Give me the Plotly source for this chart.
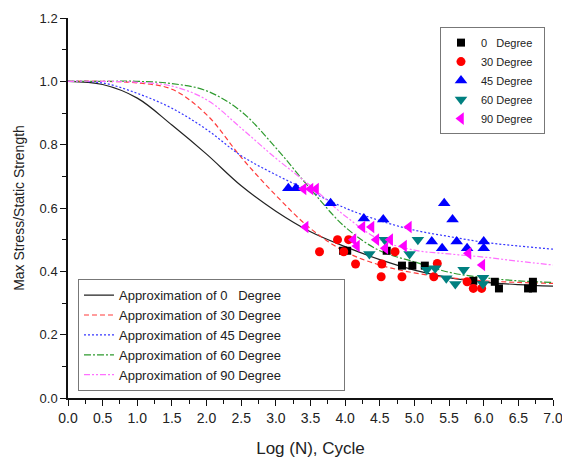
import plotly.graph_objects as go

# ---- data ----
curve_x = [0.0, 0.5, 1.0, 1.5, 2.0, 2.5, 3.0, 3.5, 4.0, 4.5, 5.0, 5.5, 6.0, 6.5, 7.0]
curve_0 = [1.0, 0.99, 0.947, 0.862, 0.77, 0.67, 0.59, 0.525, 0.478, 0.437, 0.404, 0.38, 0.366, 0.358, 0.353]
curve_30 = [1.0, 1.0, 0.995, 0.975, 0.895, 0.76, 0.64, 0.535, 0.462, 0.42, 0.395, 0.38, 0.37, 0.365, 0.362]
curve_45 = [1.0, 0.995, 0.962, 0.915, 0.848, 0.765, 0.705, 0.652, 0.60, 0.56, 0.53, 0.51, 0.492, 0.48, 0.47]
curve_60 = [1.0, 1.0, 1.0, 0.993, 0.97, 0.905, 0.79, 0.66, 0.54, 0.465, 0.43, 0.397, 0.38, 0.37, 0.365]
curve_90 = [1.0, 1.0, 0.997, 0.985, 0.942, 0.852, 0.757, 0.67, 0.575, 0.50, 0.467, 0.455, 0.445, 0.432, 0.42]

deg0_x = [3.97, 4.03, 4.60, 4.82, 4.97, 5.15, 5.85, 6.16, 6.22, 6.64, 6.71, 6.71]
deg0_y = [0.465, 0.465, 0.465, 0.418, 0.418, 0.418, 0.37, 0.367, 0.346, 0.346, 0.367, 0.346]

deg30_x = [3.63, 3.89, 3.98, 4.05, 4.15, 4.52, 4.53, 4.72, 4.82, 5.28, 5.33, 5.76, 5.85, 5.97]
deg30_y = [0.462, 0.50, 0.462, 0.50, 0.423, 0.383, 0.423, 0.462, 0.383, 0.383, 0.425, 0.367, 0.346, 0.346]

deg45_x = [3.18, 3.29, 3.79, 4.27, 4.55, 5.25, 5.40, 5.43, 5.55, 5.61, 5.76, 6.00, 6.00]
deg45_y = [0.662, 0.662, 0.615, 0.567, 0.564, 0.494, 0.473, 0.615, 0.564, 0.494, 0.473, 0.494, 0.473]

deg60_x = [4.35, 4.57, 4.93, 5.05, 5.18, 5.30, 5.46, 5.59, 5.71, 5.99, 5.99]
deg60_y = [0.455, 0.50, 0.455, 0.50, 0.405, 0.41, 0.378, 0.36, 0.405, 0.38, 0.36]

deg90_x = [3.40, 3.50, 3.58, 3.43, 4.12, 4.17, 4.25, 4.38, 4.45, 4.58, 4.65, 4.85, 4.92, 5.78, 5.98]
deg90_y = [0.66, 0.66, 0.66, 0.54, 0.50, 0.48, 0.54, 0.54, 0.50, 0.473, 0.50, 0.48, 0.54, 0.457, 0.42]

x_ticks = [0.0, 0.5, 1.0, 1.5, 2.0, 2.5, 3.0, 3.5, 4.0, 4.5, 5.0, 5.5, 6.0, 6.5, 7.0]
y_ticks = [0.0, 0.2, 0.4, 0.6, 0.8, 1.0, 1.2]

NB = "\u00a0"
FONT = "Liberation Sans, Arial, sans-serif"
TXT = "#222222"
AX = "#111111"

fig = go.Figure()

# fitted curves (legend2, bottom-left)
pad2 = NB * 16
curves = [
    (curve_0, "Approximation of 0" + NB * 3 + "Degree" + pad2, "#222222", "solid"),
    (curve_30, "Approximation of 30 Degree" + pad2, "#ff3b3b", "5px,3px"),
    (curve_45, "Approximation of 45 Degree" + pad2, "#3535ff", "2px,2px"),
    (curve_60, "Approximation of 60 Degree" + pad2, "#2e9a2e", "7px,2px,2px,2px"),
    (curve_90, "Approximation of 90 Degree" + pad2, "#ff70ff", "6px,2px,2px,2px,2px,2px"),
]
for i, (yv, name, col, dash) in enumerate(curves):
    fig.add_trace(go.Scatter(
        x=curve_x, y=yv, mode="lines", name=name,
        line=dict(color=col, width=1.2, dash=dash, shape="spline", smoothing=1.0),
        legend="legend2", legendgroup="c%d" % i,
    ))

# data points (legend, top-right)
pad1 = NB * 2
points = [
    (deg0_x, deg0_y, "0" + NB * 3 + "Degree" + pad1, "#000000", "square", 8),
    (deg30_x, deg30_y, "30 Degree" + pad1, "#ff0000", "circle", 9),
    (deg45_x, deg45_y, "45 Degree" + pad1, "#0000ff", "triangle-up", 11),
    (deg60_x, deg60_y, "60 Degree" + pad1, "#008080", "triangle-down", 11),
    (deg90_x, deg90_y, "90 Degree" + pad1, "#ff00ff", "triangle-left", 11),
]
for i, (xv, yv, name, col, sym, sz) in enumerate(points):
    fig.add_trace(go.Scatter(
        x=xv, y=yv, mode="markers", name=name,
        marker=dict(color=col, symbol=sym, size=sz, line=dict(width=0)),
        legend="legend", legendgroup="p%d" % i,
    ))

axis_common = dict(
    showgrid=False, zeroline=False, showline=True, linecolor=AX, linewidth=1.5,
    ticks="outside", ticklen=6, tickwidth=1.2, tickcolor=AX, automargin=False,
)

fig.update_layout(
    width=562, height=458,
    margin=dict(l=68, r=9, t=18, b=60, autoexpand=False),
    paper_bgcolor="white", plot_bgcolor="white",
    font=dict(family=FONT, color=TXT),
    xaxis=dict(
        range=[0, 7], tickvals=x_ticks, ticktext=["%.1f" % v for v in x_ticks],
        tickfont=dict(family=FONT, size=14, color=TXT), ticklabeloverflow="allow",
        minor=dict(dtick=0.25, ticks="outside", ticklen=4, tickcolor=AX, tickwidth=1.2),
        title=dict(text="Log (N), Cycle", font=dict(family=FONT, size=17, color=TXT), standoff=26),
        **axis_common,
    ),
    yaxis=dict(
        range=[0, 1.2], tickvals=y_ticks, ticktext=["%.1f" % v for v in y_ticks],
        tickfont=dict(family=FONT, size=13, color=TXT),
        minor=dict(dtick=0.1, ticks="outside", ticklen=4, tickcolor=AX, tickwidth=1.2),
        title=dict(text="Max Stress/Static Strength", font=dict(family=FONT, size=14, color=TXT), standoff=12),
        **axis_common,
    ),
    xaxis2=dict(
        overlaying="x", side="top", matches="x", range=[0, 7], tickvals=x_ticks,
        showticklabels=False, showgrid=False, zeroline=False, showline=True, automargin=False,
        linecolor=AX, linewidth=1.5, ticks="inside", ticklen=5, tickwidth=1.2, tickcolor=AX,
        minor=dict(dtick=0.25, ticks="inside", ticklen=3, tickcolor=AX, tickwidth=1.2),
    ),
    yaxis2=dict(
        overlaying="y", side="right", matches="y", range=[0, 1.2], tickvals=y_ticks,
        showticklabels=False, showgrid=False, zeroline=False, showline=True, automargin=False,
        linecolor=AX, linewidth=1.5, ticks="inside", ticklen=5, tickwidth=1.2, tickcolor=AX,
        minor=dict(dtick=0.1, ticks="inside", ticklen=3, tickcolor=AX, tickwidth=1.2),
    ),
    legend=dict(
        x=0.767, y=0.976, xanchor="left", yanchor="top",
        bgcolor="white", bordercolor="#777777", borderwidth=1,
        font=dict(family=FONT, size=11, color=TXT),
        traceorder="grouped", tracegroupgap=0,
    ),
    legend2=dict(
        x=0.0206, y=0.018, xanchor="left", yanchor="bottom",
        bgcolor="white", bordercolor="#777777", borderwidth=1,
        font=dict(family=FONT, size=13, color=TXT),
        traceorder="grouped", tracegroupgap=0,
    ),
    showlegend=True,
)

fig.write_html("out.html", config={"displayModeBar": False},
               post_script="document.body.style.margin='0';")
